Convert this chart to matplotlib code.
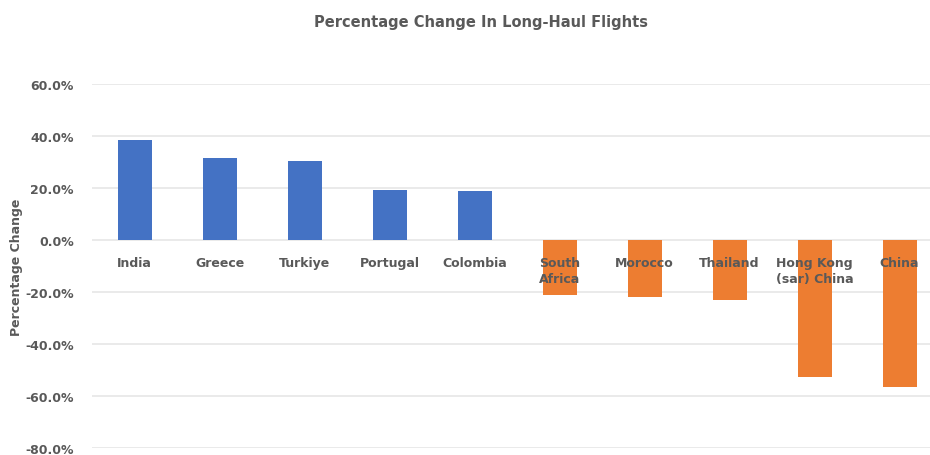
import matplotlib
matplotlib.use("Agg")
import matplotlib.pyplot as plt
from matplotlib.ticker import PercentFormatter

plt.rcParams["axes.unicode_minus"] = False

countries = ["India", "Greece", "Turkiye", "Portugal", "Colombia",
             "South\nAfrica", "Morocco", "Thailand", "Hong Kong\n(sar) China", "China"]
pct_change = [38.2, 31.5, 30.4, 19.3, 18.6, -21.3, -22.0, -23.1, -52.6, -56.4]
y_ticks = [60, 40, 20, 0, -20, -40, -60, -80]

blue = "#4472C4"
orange = "#ED7D31"
text_col = "#595959"
colors = [blue if v >= 0 else orange for v in pct_change]

fig = plt.figure(figsize=(9.3, 4.56), dpi=100)
ax = fig.add_axes([92 / 930, 1 - 449 / 456, 850 / 930, (449 - 84.7) / 456])

# gridlines drawn by hand so the tick labels can sit on top of the bars
for t in y_ticks:
    ax.axhline(t, color="#e6e6e6", linewidth=1.2, zorder=0)

x = range(len(countries))
ax.bar(x, pct_change, width=0.4, color=colors, zorder=1)
ax.set_axisbelow(False)

ax.set_xlim(-0.5, len(countries) - 0.5)
ax.set_ylim(-80, 60)
ax.set_yticks(y_ticks)
ax.yaxis.set_major_formatter(PercentFormatter(decimals=1))

for s in ax.spines.values():
    s.set_visible(False)
ax.spines["bottom"].set_position(("data", 0))

ax.set_xticks(list(x))
ax.set_xticklabels(countries, fontsize=9, fontweight="bold", color=text_col,
                   linespacing=1.3, va="top")
ax.tick_params(axis="x", length=0, pad=11.5)
ax.tick_params(axis="y", length=0, pad=13, labelsize=9, labelcolor=text_col)
for lab in ax.get_yticklabels():
    lab.set_fontweight("bold")

ax.set_ylabel("Percentage Change", fontsize=9, fontweight="bold", color=text_col,
              labelpad=2)

fig.text(481 / 930, 1 - 22 / 456, "Percentage Change In Long-Haul Flights",
         ha="center", va="center", fontsize=10.5, fontweight="bold", color=text_col)

fig.savefig("out.png", dpi=100, facecolor="white")
